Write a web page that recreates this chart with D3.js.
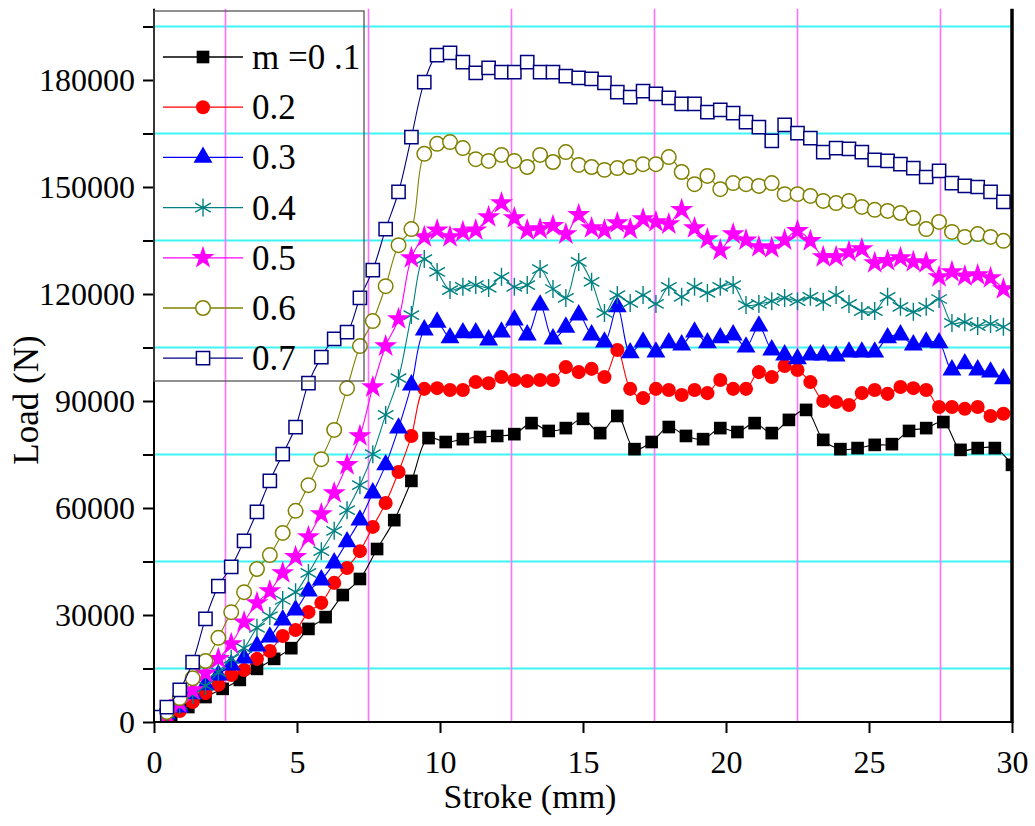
<!DOCTYPE html>
<html>
<head>
<meta charset="utf-8">
<script src="https://cdn.jsdelivr.net/npm/d3@7"></script>
<style>
  html, body { margin: 0; padding: 0; background: #fff; }
  svg { display: block; font-family: "Liberation Serif", "Times New Roman", serif; }
</style>
</head>
<body>
<svg id="chart" width="1035" height="826"></svg>
<script>
// stroke positions (mm) of the markers
const strokeBlack = [0.6, 1.2, 1.8, 2.4, 3, 3.6, 4.2, 4.8, 5.4, 6, 6.6, 7.2, 7.8, 8.4, 9, 9.6,
  10.2, 10.8, 11.4, 12, 12.6, 13.2, 13.8, 14.4, 15, 15.6, 16.2, 16.8, 17.4, 18, 18.6, 19.2,
  19.8, 20.4, 21, 21.6, 22.2, 22.8, 23.4, 24, 24.6, 25.2, 25.8, 26.4, 27, 27.6, 28.2, 28.8, 29.4, 30];
const strokeFine = [0, 0.45, 0.9, 1.35, 1.8, 2.25, 2.7, 3.15, 3.6, 4.05, 4.5, 4.95, 5.4, 5.85,
  6.3, 6.75, 7.2, 7.65, 8.1, 8.55, 9, 9.45, 9.9, 10.35, 10.8, 11.25, 11.7, 12.15, 12.6, 13.05,
  13.5, 13.95, 14.4, 14.85, 15.3, 15.75, 16.2, 16.65, 17.1, 17.55, 18, 18.45, 18.9, 19.35, 19.8,
  20.25, 20.7, 21.15, 21.6, 22.05, 22.5, 22.95, 23.4, 23.85, 24.3, 24.75, 25.2, 25.65, 26.1,
  26.55, 27, 27.45, 27.9, 28.35, 28.8, 29.25, 29.7];

// load (N)
const load01 = [600, 4200, 7000, 9300, 11800, 14900, 17700, 20700, 26100, 29400,
  35600, 40100, 48500, 56600, 67600, 79600, 78500, 79300, 79900, 80200,
  80700, 83800, 81600, 82400, 85000, 81000, 85800, 76500, 78500, 82700,
  80200, 79300, 82400, 81300, 83800, 81000, 84700, 87500, 79100, 76500,
  76800, 77700, 77900, 81600, 82400, 84100, 76300, 76800, 76800, 72100];
const load02 = [300, 800, 3100, 5600, 8100, 10400, 13200, 14600, 17700, 19900,
  24100, 25800, 30800, 33400, 39000, 43200, 47900, 54700, 61400, 70100,
  80200, 93400, 93600, 93100, 93100, 95300, 95000, 96700, 95900, 95600,
  95900, 95900, 99500, 98100, 99000, 96700, 104300, 93400, 90800, 93400,
  93100, 91700, 93100, 92200, 95900, 93400, 93400, 98100, 96700, 99800,
  98700, 95300, 90000, 89700, 88900, 92200, 93100, 92000, 93900, 93600,
  93100, 88300, 88300, 87800, 88300, 85800, 86400];
const load03 = [600, 2200, 4200, 7900, 10400, 13200, 16000, 17900, 21300, 23800,
  28600, 31400, 36700, 39800, 44600, 50500, 56600, 64200, 72100, 82400,
  94500, 109900, 112100, 107700, 109100, 109100, 107100, 109300, 112700, 108500,
  116900, 107400, 110700, 114100, 108500, 106500, 116400, 103500, 106500, 103700,
  106300, 105700, 109300, 106300, 107700, 108500, 105100, 111000, 104300, 102900,
  101800, 102900, 102900, 102600, 103700, 103700, 103700, 107700, 108500, 105700,
  106500, 106300, 98700, 100400, 98700, 98100, 96200];
const load04 = [600, 2500, 4800, 7600, 10100, 14000, 17700, 20700, 26400, 29700,
  34200, 36400, 41800, 47900, 53600, 59400, 66400, 75100, 86100, 96400,
  114100, 129800, 126200, 121100, 122000, 122500, 121700, 124800, 122000, 122500,
  127000, 121400, 118900, 129000, 123400, 114700, 119700, 117500, 119700, 117200,
  122000, 119200, 122000, 120300, 122000, 122500, 116900, 117200, 118000, 118900,
  118000, 119200, 117800, 119700, 117200, 115200, 115200, 119200, 116400, 115000,
  116400, 118600, 111900, 112100, 111000, 111600, 110800];
const load05 = [600, 2200, 5300, 9000, 13700, 17700, 21900, 28000, 33400, 36700,
  41800, 46300, 51900, 58300, 64200, 72100, 80200, 93900, 105400, 113000,
  130100, 136000, 137900, 136000, 137400, 137900, 141600, 145500, 141300, 137900,
  138200, 139100, 136800, 142200, 138500, 137900, 139900, 138200, 141000, 140200,
  139600, 143600, 138500, 135400, 132300, 136800, 135100, 133200, 132900, 135100,
  137700, 134900, 130400, 130400, 131800, 132600, 128700, 129300, 130100, 129000,
  128700, 124800, 126200, 125000, 125300, 124500, 121400];
const load06 = [600, 2800, 6700, 12300, 17100, 23600, 30800, 36400, 42900, 46800,
  53000, 59200, 66400, 73700, 81900, 93600, 105400, 112400, 122200, 133700,
  138200, 159300, 162100, 162600, 160900, 157800, 157300, 159000, 157300, 155600,
  159000, 157000, 159800, 156200, 155600, 154800, 155300, 155600, 156400, 156400,
  158400, 154200, 150800, 153100, 149400, 151100, 150800, 150300, 151100, 148000,
  148000, 147500, 146100, 145500, 146100, 144400, 143600, 143300, 142700, 141300,
  138200, 140200, 137400, 136000, 136800, 136000, 134900];
const load07 = [1400, 4200, 9000, 16800, 28900, 38100, 43500, 50800, 58900, 67600,
  75100, 82700, 95000, 102300, 107400, 109300, 118900, 126700, 138200, 148600,
  164000, 179400, 187000, 187600, 185000, 182000, 183400, 182200, 182200, 185000,
  182200, 182200, 181100, 180600, 180300, 179200, 176600, 175200, 176900, 176100,
  175000, 173300, 173300, 171000, 171600, 170700, 168200, 166800, 162900, 167400,
  165100, 163700, 159800, 160900, 160700, 159800, 157600, 157300, 156400, 155300,
  152800, 154500, 151100, 150300, 150000, 148600, 145800];

const seriesNames = ["m =0 .1", "0.2", "0.3", "0.4", "0.5", "0.6", "0.7"];
const seriesColors = ["#000000", "#ff0000", "#0000ff", "#008080", "#ff00ff", "#808000", "#000080"];
const seriesMarkers = ["squareFill", "circleFill", "triangle", "asterisk", "star", "circleOpen", "squareOpen"];

const xTicks = [0, 5, 10, 15, 20, 25, 30];
const yTicks = [0, 15000, 30000, 45000, 60000, 75000, 90000, 105000, 120000, 135000, 150000, 165000, 180000, 195000];
const yLabels = [0, 30000, 60000, 90000, 120000, 150000, 180000];
const hGrid = [15000, 45000, 75000, 105000, 135000, 165000, 195000];
const vGrid = [2.5, 7.5, 12.5, 17.5, 22.5, 27.5];

const series = [
  { x: strokeBlack, y: load01 },
  { x: strokeFine, y: load02 },
  { x: strokeFine, y: load03 },
  { x: strokeFine, y: load04 },
  { x: strokeFine, y: load05 },
  { x: strokeFine, y: load06 },
  { x: strokeFine, y: load07 },
].map((s, i) => ({
  name: seriesNames[i],
  color: seriesColors[i],
  marker: seriesMarkers[i],
  points: s.x.map((v, j) => [v, s.y[j]]),
}));

const svg = d3.select("#chart");
const plotL = 154, plotR = 1012, plotB = 722;

const x = d3.scaleLinear().domain([0, 30]).range([plotL, plotR]);
const y = d3.scaleLinear().domain([0, 200000]).range([plotB, plotB - 200000 / 280.37]);
const plotT = y(200000);

svg.append("defs").append("clipPath").attr("id", "plot")
  .append("rect")
  .attr("x", plotL).attr("y", plotT)
  .attr("width", plotR - plotL).attr("height", plotB - plotT);

// grid lines
svg.append("g").selectAll("line").data(hGrid).join("line")
  .attr("x1", plotL).attr("x2", plotR)
  .attr("y1", (d) => y(d)).attr("y2", (d) => y(d))
  .attr("stroke", "#3ff4f4").attr("stroke-width", 1.8);
svg.append("g").selectAll("line").data(vGrid).join("line")
  .attr("x1", (d) => x(d)).attr("x2", (d) => x(d))
  .attr("y1", plotT).attr("y2", plotB)
  .attr("stroke", "#ff70ff").attr("stroke-width", 1.6);

// marker shapes
const sym = {
  squareFill: d3.symbol(d3.symbolSquare, 160),
  circleFill: d3.symbol(d3.symbolCircle, 155),
  triangle: d3.symbol(d3.symbolTriangle, 155),
  star: d3.symbol(d3.symbolStar, 165),
  circleOpen: d3.symbol(d3.symbolCircle, 165),
  squareOpen: d3.symbol(d3.symbolSquare, 175),
};
const asteriskPath = "M0,-9L0,9M-7.8,-4.5L7.8,4.5M-7.8,4.5L7.8,-4.5";

function drawMarkers(g, s, pts) {
  const m = g.selectAll("path.mk").data(pts).join("path")
    .attr("class", "mk")
    .attr("transform", (d) => `translate(${d[0]},${d[1]})`);
  if (s.marker === "asterisk") {
    m.attr("d", asteriskPath).attr("fill", "none")
      .attr("stroke", s.color).attr("stroke-width", 1.4);
  } else if (s.marker === "circleOpen" || s.marker === "squareOpen") {
    m.attr("d", sym[s.marker]()).attr("fill", "#fff")
      .attr("stroke", s.color).attr("stroke-width", 1.5);
  } else {
    m.attr("d", sym[s.marker]()).attr("fill", s.color).attr("stroke", "none");
  }
}

const line = d3.line()
  .x((d) => x(d[0]))
  .y((d) => y(d[1]))
  .curve(d3.curveCatmullRom.alpha(0.5));

const plot = svg.append("g").attr("clip-path", "url(#plot)");
series.forEach((s) => {
  const g = plot.append("g");
  g.append("path")
    .attr("d", line(s.points))
    .attr("fill", "none")
    .attr("stroke", s.color)
    .attr("stroke-width", 1.1);
  drawMarkers(g, s, s.points.map((d) => [x(d[0]), y(d[1])]));
});

// axes
const xAxis = svg.append("g")
  .attr("transform", `translate(0,${plotB})`)
  .call(d3.axisBottom(x).tickValues(xTicks).tickSize(11).tickPadding(17).tickSizeOuter(0));
const yAxis = svg.append("g")
  .attr("transform", `translate(${plotL},0)`)
  .call(d3.axisLeft(y).tickValues(yTicks).tickSize(11).tickPadding(8).tickSizeOuter(0)
    .tickFormat((d) => (yLabels.includes(d) ? d : "")));
[xAxis, yAxis].forEach((a) => {
  a.select(".domain").attr("stroke", "#000").attr("stroke-width", 2);
  a.selectAll(".tick line").attr("stroke", "#000").attr("stroke-width", 2);
  a.selectAll(".tick text")
    .attr("fill", "#000")
    .style("font-family", '"Liberation Serif", "Times New Roman", serif')
    .style("font-size", "32px");
});
yAxis.select(".domain").attr("d", `M0,${plotB}V${plotT}`);
xAxis.select(".domain").attr("d", `M${plotL},0H${plotR}`);

// right border
svg.append("line")
  .attr("x1", plotR).attr("x2", plotR)
  .attr("y1", plotT).attr("y2", plotB + 1)
  .attr("stroke", "#000").attr("stroke-width", 3.5);

// axis titles
svg.append("text")
  .attr("x", 530).attr("y", 808)
  .attr("text-anchor", "middle")
  .style("font-size", "34px")
  .text("Stroke (mm)");
svg.append("text")
  .attr("transform", "translate(38,400) rotate(-90)")
  .attr("text-anchor", "middle")
  .style("font-size", "35px")
  .text("Load (N)");

// legend
const lg = svg.append("g");
lg.append("rect")
  .attr("x", plotL).attr("y", 11)
  .attr("width", 210).attr("height", 370)
  .attr("fill", "none").attr("stroke", "#555").attr("stroke-width", 1.3);
series.forEach((s, i) => {
  const cy = 57 + i * 50.2;
  const row = lg.append("g");
  row.append("line")
    .attr("x1", 163).attr("x2", 243)
    .attr("y1", cy).attr("y2", cy)
    .attr("stroke", s.color).attr("stroke-width", 1.3);
  drawMarkers(row, s, [[203, cy]]);
  row.append("text")
    .attr("x", 252).attr("y", cy + 12)
    .style("font-size", "35px")
    .text(s.name);
});
</script>
</body>
</html>
